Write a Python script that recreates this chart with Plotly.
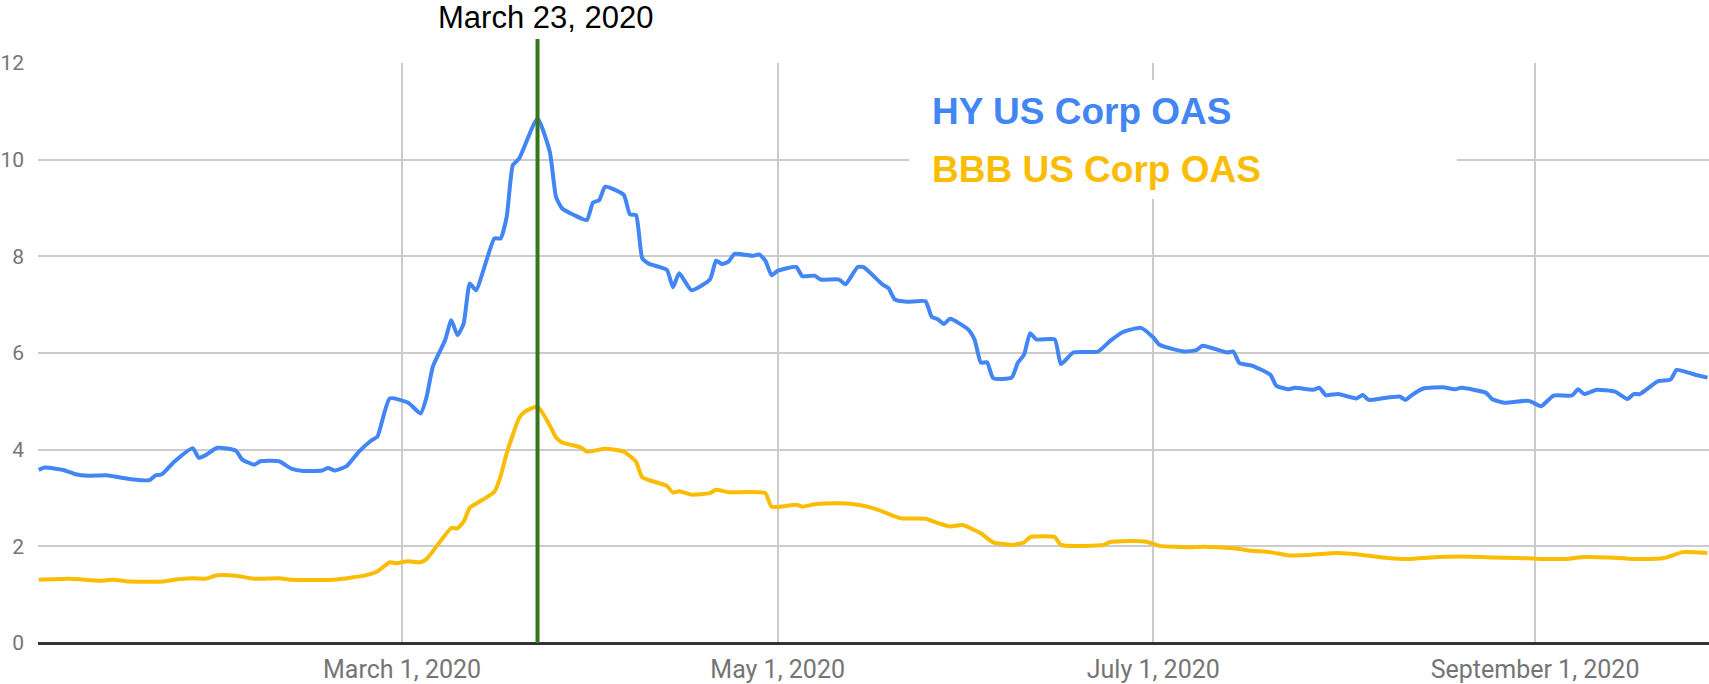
import plotly.graph_objects as go

# ---- data ----
hy_dates = ["2020-01-02","2020-01-03","2020-01-06","2020-01-08","2020-01-10","2020-01-13","2020-01-15",
    "2020-01-17","2020-01-20","2020-01-21","2020-01-22","2020-01-24","2020-01-27","2020-01-28","2020-01-29",
    "2020-01-31","2020-02-03","2020-02-04","2020-02-06","2020-02-07","2020-02-10","2020-02-12","2020-02-14",
    "2020-02-17","2020-02-18","2020-02-19","2020-02-21","2020-02-23","2020-02-25","2020-02-26","2020-02-28",
    "2020-03-02","2020-03-04","2020-03-05","2020-03-06","2020-03-08","2020-03-09","2020-03-10","2020-03-11",
    "2020-03-12","2020-03-13","2020-03-16","2020-03-17","2020-03-18","2020-03-19","2020-03-20","2020-03-23",
    "2020-03-25","2020-03-26","2020-03-27","2020-03-29","2020-03-31","2020-04-01","2020-04-02","2020-04-03",
    "2020-04-06","2020-04-07","2020-04-08","2020-04-09","2020-04-10","2020-04-13","2020-04-14","2020-04-15",
    "2020-04-17","2020-04-20","2020-04-21","2020-04-22","2020-04-23","2020-04-24","2020-04-27","2020-04-28",
    "2020-04-29","2020-04-30","2020-05-01","2020-05-04","2020-05-05","2020-05-07","2020-05-08","2020-05-11",
    "2020-05-12","2020-05-14","2020-05-15","2020-05-18","2020-05-19","2020-05-20","2020-05-22","2020-05-25",
    "2020-05-26","2020-05-27","2020-05-28","2020-05-29","2020-06-01","2020-06-02","2020-06-03","2020-06-04",
    "2020-06-05","2020-06-08","2020-06-09","2020-06-10","2020-06-11","2020-06-12","2020-06-15","2020-06-16",
    "2020-06-18","2020-06-22","2020-06-24","2020-06-26","2020-06-29","2020-07-01","2020-07-02","2020-07-06",
    "2020-07-08","2020-07-09","2020-07-13","2020-07-14","2020-07-15","2020-07-17","2020-07-20","2020-07-21",
    "2020-07-23","2020-07-24","2020-07-27","2020-07-28","2020-07-29","2020-07-31","2020-08-03","2020-08-04",
    "2020-08-05","2020-08-07","2020-08-10","2020-08-11","2020-08-12","2020-08-14","2020-08-17","2020-08-19",
    "2020-08-20","2020-08-24","2020-08-25","2020-08-27","2020-08-31","2020-09-02","2020-09-04","2020-09-07",
    "2020-09-08","2020-09-09","2020-09-11","2020-09-14","2020-09-16","2020-09-17","2020-09-18","2020-09-21",
    "2020-09-23","2020-09-24","2020-09-27","2020-09-29"]
hy_values = [3.58,3.63,3.58,3.49,3.46,3.47,3.43,
    3.39,3.37,3.47,3.49,3.75,4.03,3.83,3.88,
    4.04,3.98,3.80,3.69,3.76,3.76,3.61,3.56,
    3.57,3.62,3.57,3.66,3.96,4.19,4.27,5.06,
    4.97,4.75,5.10,5.72,6.27,6.68,6.37,6.61,
    7.44,7.30,8.37,8.37,8.82,9.89,10.02,10.85,
    10.16,9.23,8.99,8.85,8.75,9.11,9.16,9.44,
    9.27,8.87,8.85,7.96,7.85,7.72,7.36,7.65,
    7.30,7.52,7.91,7.84,7.89,8.05,8.01,8.04,
    7.91,7.61,7.70,7.78,7.59,7.60,7.52,7.52,
    7.42,7.78,7.77,7.42,7.34,7.11,7.06,7.07,
    6.75,6.70,6.60,6.71,6.48,6.27,5.80,5.81,
    5.48,5.49,5.80,5.96,6.41,6.28,6.28,5.77,
    6.01,6.03,6.25,6.43,6.52,6.32,6.17,6.03,
    6.06,6.15,6.01,6.03,5.79,5.74,5.55,5.32,
    5.25,5.28,5.24,5.28,5.13,5.15,5.06,5.13,
    5.03,5.06,5.10,5.03,5.13,5.27,5.29,5.25,
    5.28,5.18,5.05,4.97,5.01,4.90,5.12,5.12,
    5.25,5.15,5.24,5.20,5.05,5.15,5.15,5.42,
    5.45,5.65,5.55,5.49]

bbb_dates = ["2020-01-02","2020-01-07","2020-01-12","2020-01-14","2020-01-17","2020-01-22","2020-01-24",
    "2020-01-27","2020-01-29","2020-01-31","2020-02-03","2020-02-06","2020-02-10","2020-02-12","2020-02-19",
    "2020-02-22","2020-02-24","2020-02-26","2020-02-28","2020-02-29","2020-03-02","2020-03-04","2020-03-05",
    "2020-03-09","2020-03-10","2020-03-11","2020-03-12","2020-03-13","2020-03-16","2020-03-17","2020-03-18",
    "2020-03-20","2020-03-21","2020-03-23","2020-03-25","2020-03-26","2020-03-27","2020-03-30","2020-03-31",
    "2020-04-03","2020-04-06","2020-04-08","2020-04-09","2020-04-13","2020-04-14","2020-04-15","2020-04-17",
    "2020-04-20","2020-04-21","2020-04-23","2020-04-29","2020-04-30","2020-05-04","2020-05-05","2020-05-07",
    "2020-05-11","2020-05-14","2020-05-17","2020-05-21","2020-05-25","2020-05-27","2020-05-29","2020-05-31",
    "2020-06-03","2020-06-05","2020-06-08","2020-06-10","2020-06-11","2020-06-15","2020-06-16","2020-06-23",
    "2020-06-24","2020-06-28","2020-06-30","2020-07-02","2020-07-07","2020-07-09","2020-07-14","2020-07-17",
    "2020-07-20","2020-07-23","2020-07-26","2020-07-31","2020-08-04","2020-08-08","2020-08-12","2020-08-15",
    "2020-08-20","2020-08-25","2020-08-29","2020-09-02","2020-09-06","2020-09-09","2020-09-13","2020-09-17",
    "2020-09-22","2020-09-25","2020-09-29"]
bbb_values = [1.31,1.33,1.29,1.31,1.27,1.27,1.31,
    1.34,1.33,1.40,1.39,1.33,1.34,1.31,1.31,
    1.36,1.40,1.48,1.67,1.65,1.69,1.67,1.74,
    2.38,2.37,2.51,2.80,2.88,3.13,3.45,3.93,
    4.65,4.79,4.89,4.50,4.25,4.15,4.05,3.96,
    4.02,3.96,3.75,3.43,3.25,3.11,3.14,3.07,
    3.10,3.17,3.12,3.10,2.82,2.86,2.82,2.87,
    2.89,2.86,2.77,2.58,2.57,2.48,2.41,2.44,
    2.27,2.08,2.03,2.08,2.19,2.19,2.03,2.03,
    2.09,2.11,2.09,2.01,1.98,1.99,1.96,1.91,
    1.88,1.81,1.82,1.86,1.82,1.76,1.74,1.77,
    1.79,1.77,1.76,1.74,1.74,1.78,1.77,1.74,
    1.76,1.88,1.86]

tick_dates = ["2020-03-01", "2020-05-01", "2020-07-01", "2020-09-01"]
tick_labels = ["March 1, 2020", "May 1, 2020", "July 1, 2020", "September 1, 2020"]
event_date = "2020-03-23"
event_label = "March 23, 2020"
series_names = ["HY US Corp OAS", "BBB US Corp OAS"]

BLUE = "#4285F4"
YELLOW = "#FBBC04"
GREEN = "#38761D"
GRID = "#CCCCCC"
TICK = "#757575"

fig = go.Figure()
fig.add_trace(go.Scatter(x=hy_dates, y=hy_values, mode="lines", name=series_names[0],
                         line=dict(color=BLUE, width=4, shape="spline", smoothing=0.5)))
fig.add_trace(go.Scatter(x=bbb_dates, y=bbb_values, mode="lines", name=series_names[1],
                         line=dict(color=YELLOW, width=4, shape="spline", smoothing=0.5)))

# event line
fig.add_shape(type="line", xref="x", yref="paper", x0=event_date, x1=event_date,
              y0=0, y1=1.0414, line=dict(color=GREEN, width=4), layer="above")
fig.add_annotation(x=event_date, xref="x", y=1.0414, yref="paper", text=event_label,
                   showarrow=False, xanchor="center", yanchor="bottom", xshift=8, yshift=2,
                   font=dict(family="Arial, Liberation Sans", size=31, color="#000000"))

# legend box
fig.add_shape(type="rect", xref="paper", yref="paper", x0=0.5212, x1=0.8492, y0=0.7655, y1=0.9707,
              fillcolor="white", line=dict(width=0), layer="above")
fig.add_annotation(x=0.5337, xref="paper", y=0.9160, yref="paper", text="<b>%s</b>" % series_names[0],
                   showarrow=False, xanchor="left", yanchor="middle",
                   font=dict(family="Arial, Liberation Sans", size=37, color=BLUE))
fig.add_annotation(x=0.5337, xref="paper", y=0.8162, yref="paper", text="<b>%s</b>" % series_names[1],
                   showarrow=False, xanchor="left", yanchor="middle",
                   font=dict(family="Arial, Liberation Sans", size=37, color=YELLOW))

fig.update_layout(
    width=1709, height=684,
    margin=dict(l=38, r=0, t=63, b=41),
    paper_bgcolor="white", plot_bgcolor="white",
    showlegend=False,
    xaxis=dict(type="date", range=["2020-01-01 21:00", "2020-09-29 06:00"],
               tickvals=tick_dates, ticktext=tick_labels,
               showgrid=True, gridcolor=GRID, gridwidth=2,
               showline=False, zeroline=False, ticks="", ticklabelstandoff=9,
               tickfont=dict(family="Roboto", size=25, color=TICK)),
    yaxis=dict(range=[0, 12], dtick=2, tick0=0,
               showgrid=True, gridcolor=GRID, gridwidth=2,
               zeroline=True, zerolinecolor="#333333", zerolinewidth=2.5,
               showline=False, ticks="", ticklabelstandoff=13,
               tickfont=dict(family="Roboto", size=21, color=TICK)),
)

# remove the default page margin so the figure fills the window exactly
fig.write_html("out.html", config={"displayModeBar": False},
               post_script="document.body.style.margin='0px';")
